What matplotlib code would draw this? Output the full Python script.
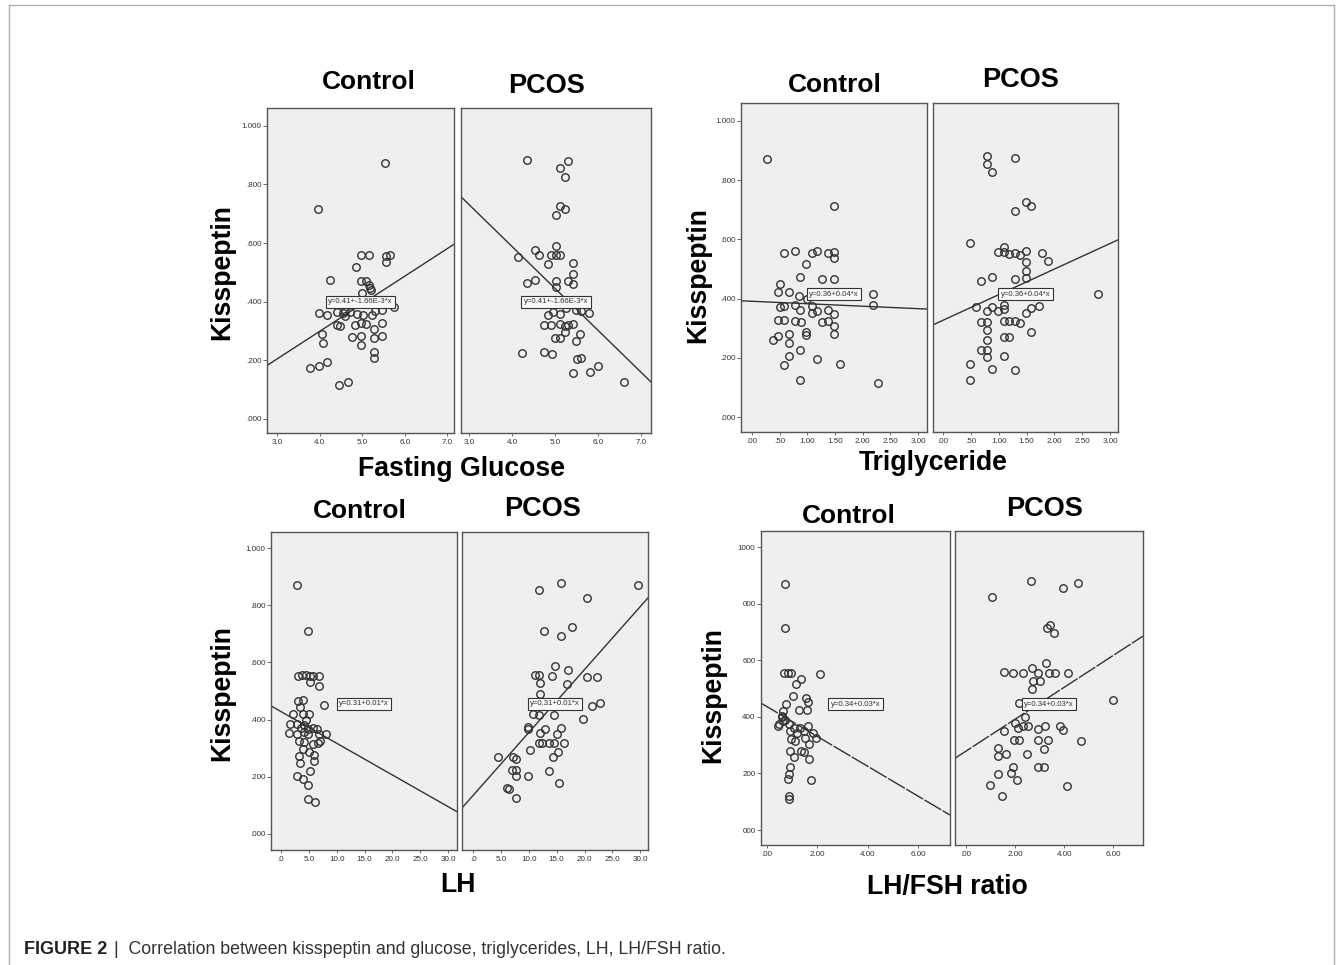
import numpy as np
import matplotlib
matplotlib.use("Agg")
from matplotlib import pyplot as plt
from matplotlib.lines import Line2D

plt.rcParams['font.family'] = ['Liberation Sans', 'DejaVu Sans']

# ---- data ----
# Fasting glucose
glu_ctrl_x = [5.54, 3.96, 4.97, 5.17, 5.56, 5.66, 5.55, 4.85, 4.25, 4.96, 5.09, 5.17, 5.19,
              3.98, 4.16, 4.41, 4.55, 4.60, 4.72, 4.88, 5.03, 5.23, 5.46, 5.74, 4.41, 4.47,
              4.84, 4.96, 5.09, 5.27, 5.46, 4.05, 4.08, 4.76, 4.98, 5.27, 5.46, 4.98, 5.27,
              5.27, 4.16, 3.98, 3.76, 4.45, 4.67, 5.00, 5.30, 4.60, 5.20]
glu_ctrl_y = [0.873, 0.718, 0.558, 0.561, 0.557, 0.561, 0.535, 0.517, 0.474, 0.470, 0.470,
              0.458, 0.447, 0.362, 0.354, 0.365, 0.362, 0.350, 0.365, 0.358, 0.356, 0.356,
              0.373, 0.381, 0.322, 0.316, 0.320, 0.328, 0.324, 0.308, 0.328, 0.290, 0.259,
              0.279, 0.282, 0.276, 0.282, 0.251, 0.228, 0.208, 0.195, 0.180, 0.174, 0.117,
              0.125, 0.430, 0.370, 0.370, 0.440]
glu_pcos_x = [4.34, 5.31, 5.12, 5.23, 5.12, 5.24, 5.02, 5.03, 4.53, 4.63, 4.90, 5.02, 5.12,
              4.13, 4.83, 5.41, 5.41, 4.34, 4.53, 5.02, 5.31, 5.41, 5.02, 4.83, 4.94, 5.12,
              5.48, 5.79, 4.75, 4.90, 5.12, 5.23, 5.31, 5.41, 5.23, 5.58, 5.00, 5.12, 5.48,
              4.22, 4.73, 4.92, 5.51, 5.60, 6.00, 5.81, 5.42, 6.61, 5.25, 5.60]
glu_pcos_y = [0.883, 0.879, 0.856, 0.824, 0.726, 0.716, 0.695, 0.589, 0.575, 0.558, 0.561,
              0.561, 0.558, 0.552, 0.527, 0.531, 0.495, 0.465, 0.474, 0.470, 0.472, 0.461,
              0.449, 0.356, 0.365, 0.358, 0.373, 0.362, 0.322, 0.322, 0.324, 0.316, 0.320,
              0.324, 0.297, 0.291, 0.276, 0.276, 0.265, 0.225, 0.228, 0.223, 0.203, 0.208,
              0.182, 0.160, 0.157, 0.125, 0.380, 0.370]

# Triglyceride
tg_ctrl_x = [0.27, 1.48, 0.57, 0.78, 1.08, 1.17, 1.38, 1.48, 1.48, 0.98, 0.87, 1.27, 1.48,
             0.50, 0.47, 0.67, 2.18, 2.18, 0.57, 0.78, 0.87, 1.08, 1.08, 1.17, 1.38, 1.48,
             0.50, 0.47, 0.57, 0.78, 0.88, 1.27, 1.38, 1.48, 0.98, 0.98, 1.48, 0.47, 0.37,
             0.67, 0.67, 0.87, 0.67, 1.17, 1.58, 0.57, 0.87, 2.28, 1.00, 0.85]
tg_ctrl_y = [0.871, 0.713, 0.554, 0.559, 0.554, 0.559, 0.554, 0.556, 0.536, 0.518, 0.473,
             0.466, 0.466, 0.449, 0.424, 0.424, 0.417, 0.379, 0.374, 0.379, 0.360, 0.374,
             0.353, 0.357, 0.362, 0.349, 0.372, 0.327, 0.329, 0.323, 0.320, 0.320, 0.323,
             0.306, 0.289, 0.276, 0.281, 0.275, 0.259, 0.281, 0.250, 0.225, 0.205, 0.196,
             0.180, 0.175, 0.126, 0.115, 0.400, 0.410]
tg_pcos_x = [0.79, 0.79, 0.88, 1.29, 1.49, 1.58, 1.29, 0.49, 1.09, 0.99, 1.09, 1.18, 1.29,
             1.39, 1.49, 1.78, 1.88, 1.49, 1.49, 0.69, 0.88, 1.29, 1.49, 2.78, 0.59, 0.79,
             0.88, 0.99, 1.09, 1.09, 1.49, 1.58, 1.73, 0.69, 0.79, 1.09, 1.18, 1.29, 1.39,
             0.79, 1.58, 0.79, 1.09, 1.18, 0.69, 0.79, 0.79, 1.09, 0.49, 0.88, 1.29, 0.49]
tg_pcos_y = [0.880, 0.855, 0.826, 0.874, 0.725, 0.711, 0.697, 0.588, 0.574, 0.557, 0.557,
             0.552, 0.554, 0.548, 0.559, 0.554, 0.528, 0.524, 0.492, 0.461, 0.473, 0.466,
             0.469, 0.417, 0.372, 0.357, 0.372, 0.357, 0.379, 0.365, 0.353, 0.368, 0.374,
             0.320, 0.320, 0.323, 0.323, 0.323, 0.318, 0.293, 0.289, 0.261, 0.270, 0.270,
             0.225, 0.225, 0.203, 0.205, 0.180, 0.162, 0.160, 0.124]

# LH
lh_ctrl_x = [2.81, 4.91, 2.99, 3.71, 4.49, 5.21, 5.81, 6.89, 5.21, 6.89, 7.66, 3.11, 3.89,
             3.47, 2.09, 3.89, 5.09, 1.61, 2.87, 4.19, 4.91, 5.69, 6.47, 8.08, 1.49, 2.87,
             4.07, 4.91, 6.89, 3.29, 4.19, 5.69, 6.59, 7.07, 4.01, 5.09, 3.29, 5.87, 3.47,
             5.87, 5.27, 2.87, 3.89, 4.91, 4.91, 6.11, 4.50, 3.50]
lh_ctrl_y = [0.869, 0.711, 0.552, 0.555, 0.555, 0.552, 0.552, 0.552, 0.531, 0.516, 0.452,
             0.465, 0.470, 0.444, 0.421, 0.421, 0.421, 0.386, 0.386, 0.382, 0.368, 0.370,
             0.368, 0.351, 0.353, 0.351, 0.356, 0.351, 0.351, 0.324, 0.321, 0.316, 0.319,
             0.324, 0.298, 0.286, 0.272, 0.277, 0.249, 0.254, 0.222, 0.203, 0.191, 0.173,
             0.123, 0.112, 0.400, 0.370]
lh_pcos_x = [15.74, 11.85, 29.6, 20.4, 12.8, 17.7, 15.74, 14.7, 17.1, 11.13, 11.85, 14.1,
             22.3, 20.4, 12.0, 16.8, 22.8, 21.3, 19.8, 14.5, 11.85, 10.8, 9.93, 9.93, 12.9,
             15.74, 12.0, 15.0, 11.85, 12.4, 13.6, 14.5, 16.4, 10.2, 14.3, 15.3, 4.43, 7.23,
             7.78, 6.94, 7.78, 13.6, 9.81, 7.78, 6.04, 6.4, 15.5, 7.78, 12.0]
lh_pcos_y = [0.876, 0.853, 0.871, 0.824, 0.711, 0.723, 0.693, 0.587, 0.573, 0.556, 0.556,
             0.552, 0.550, 0.549, 0.527, 0.526, 0.459, 0.448, 0.401, 0.415, 0.415, 0.420,
             0.375, 0.367, 0.366, 0.369, 0.354, 0.350, 0.319, 0.317, 0.319, 0.319, 0.317,
             0.294, 0.270, 0.285, 0.270, 0.270, 0.261, 0.224, 0.224, 0.221, 0.204, 0.204,
             0.160, 0.158, 0.178, 0.125, 0.490]

# LH/FSH ratio
ratio_ctrl_x = [0.73, 0.71, 0.69, 0.82, 0.95, 2.12, 1.35, 1.15, 1.04, 1.55, 1.61, 0.75, 1.28,
                1.57, 0.62, 0.58, 0.49, 0.62, 0.89, 1.08, 1.32, 1.61, 0.45, 1.81, 0.93, 1.19,
                1.48, 0.95, 1.11, 1.52, 1.94, 1.65, 0.93, 1.35, 1.45, 1.06, 1.65, 0.91, 0.89,
                0.85, 1.75, 0.86, 0.86, 0.60, 0.70]
ratio_ctrl_y = [0.871, 0.713, 0.554, 0.556, 0.556, 0.553, 0.535, 0.515, 0.474, 0.466, 0.454,
                0.447, 0.423, 0.423, 0.421, 0.403, 0.374, 0.386, 0.376, 0.362, 0.360, 0.368,
                0.368, 0.344, 0.350, 0.344, 0.350, 0.321, 0.315, 0.324, 0.327, 0.305, 0.280,
                0.280, 0.274, 0.258, 0.250, 0.223, 0.199, 0.179, 0.176, 0.120, 0.111, 0.400,
                0.390]
ratio_pcos_x = [2.65, 4.56, 3.95, 1.05, 3.43, 3.29, 3.59, 3.27, 2.69, 1.56, 1.93, 2.34, 2.95,
                3.40, 3.63, 4.14, 2.72, 3.00, 2.69, 6.01, 2.18, 2.41, 2.00, 2.11, 2.34, 2.54,
                2.95, 3.22, 3.83, 3.95, 1.56, 1.97, 2.18, 2.95, 3.36, 4.68, 1.29, 1.32, 1.63,
                2.50, 3.18, 1.93, 2.95, 3.19, 1.84, 1.29, 2.06, 0.98, 4.10, 1.48]
ratio_pcos_y = [0.880, 0.872, 0.856, 0.824, 0.724, 0.715, 0.695, 0.589, 0.571, 0.557, 0.556,
                0.556, 0.556, 0.554, 0.554, 0.554, 0.528, 0.528, 0.497, 0.459, 0.448, 0.400,
                0.380, 0.362, 0.368, 0.368, 0.358, 0.366, 0.369, 0.354, 0.351, 0.318, 0.318,
                0.318, 0.318, 0.316, 0.291, 0.263, 0.268, 0.270, 0.288, 0.221, 0.224, 0.224,
                0.201, 0.199, 0.178, 0.159, 0.157, 0.121]

# fit lines (intercept, slope) as drawn
glu_fit = [(-0.077, 0.094), (1.160, -0.143)]
tg_fit = [(0.391, -0.0083), (0.327, 0.0864)]
lh_fit = [(0.428, -0.01108), (0.135, 0.022)]
ratio_fit = [(0.436, -0.0527), (0.279, 0.0563)]

fit_labels = ["y=0.41+-1.66E-3*x", "y=0.36+0.04*x", "y=0.31+0.01*x", "y=0.34+0.03*x"]
x_labels = ["Fasting Glucose", "Triglyceride", "LH", "LH/FSH ratio"]
y_ticks = [0.0, 0.2, 0.4, 0.6, 0.8, 1.0]
y_ticklabels = [".000", ".200", ".400", ".600", ".800", "1.000"]
y_ticklabels_ratio = ["000", "200", "400", "600", "000", "1000"]
glu_ticks = [3.0, 4.0, 5.0, 6.0, 7.0]
glu_ticklabels = ["3.0", "4.0", "5.0", "6.0", "7.0"]
tg_ticks = [0.0, 0.5, 1.0, 1.5, 2.0, 2.5, 3.0]
tg_ticklabels = [".00", ".50", "1.00", "1.50", "2.00", "2.50", "3.00"]
lh_ticks = [0, 5, 10, 15, 20, 25, 30]
lh_ticklabels = [".0", "5.0", "10.0", "15.0", "20.0", "25.0", "30.0"]
ratio_ticks = [0, 2, 4, 6]
ratio_ticklabels = [".00", "2.00", "4.00", "6.00"]

# ---- figure ----
W, H = 1344, 965
fig = plt.figure(figsize=(W / 100, H / 100), dpi=100)
fig.patch.set_facecolor("white")


def box(l, t, r, b):
    return [l / W, 1 - b / H, (r - l) / W, (b - t) / H]


def ftext(x, y, s, **kw):
    fig.text(x / W, 1 - y / H, s, **kw)


panels = [
    dict(ctrl=(glu_ctrl_x, glu_ctrl_y), pcos=(glu_pcos_x, glu_pcos_y), fit=glu_fit,
         boxes=[(267, 108, 454, 433), (461, 108, 651, 433)],
         xlims=[(2.76, 7.16), (2.81, 7.23)], ylim=(-0.048, 1.061),
         xt=glu_ticks, xtl=glu_ticklabels, ytl=y_ticklabels, lab_y=0.40,
         titles=[(369, 82), (547, 86)], ylab=(222, 272), xlab=(461, 469)),
    dict(ctrl=(tg_ctrl_x, tg_ctrl_y), pcos=(tg_pcos_x, tg_pcos_y), fit=tg_fit,
         boxes=[(741, 103, 927, 432), (933, 103, 1118, 432)],
         xlims=[(-0.2, 3.16), (-0.18, 3.14)], ylim=(-0.05, 1.06),
         xt=tg_ticks, xtl=tg_ticklabels, ytl=y_ticklabels, lab_y=0.415,
         titles=[(835, 85), (1020, 80)], ylab=(698, 275), xlab=(933, 463)),
    dict(ctrl=(lh_ctrl_x, lh_ctrl_y), pcos=(lh_pcos_x, lh_pcos_y), fit=lh_fit,
         boxes=[(271, 532, 457, 850), (462, 532, 648, 850)],
         xlims=[(-1.8, 31.6), (-2.0, 31.4)], ylim=(-0.056, 1.056),
         xt=lh_ticks, xtl=lh_ticklabels, ytl=y_ticklabels, lab_y=0.455,
         titles=[(360, 511), (543, 509)], ylab=(222, 693), xlab=(458, 885)),
    dict(ctrl=(ratio_ctrl_x, ratio_ctrl_y), pcos=(ratio_pcos_x, ratio_pcos_y), fit=ratio_fit,
         boxes=[(761, 531, 950, 845), (955, 531, 1143, 845)],
         xlims=[(-0.24, 7.27), (-0.45, 7.22)], ylim=(-0.053, 1.057),
         xt=ratio_ticks, xtl=ratio_ticklabels, ytl=y_ticklabels_ratio, lab_y=0.445,
         titles=[(849, 516), (1045, 509)], ylab=(713, 695), xlab=(947, 887)),
]

for i, p in enumerate(panels):
    for j, key in enumerate(["ctrl", "pcos"]):
        ax = fig.add_axes(box(*p["boxes"][j]))
        ax.set_facecolor("#efefef")
        for sp in ax.spines.values():
            sp.set_color("#555555")
            sp.set_linewidth(1.0)
        xs, ys = p[key]
        ax.plot(xs, ys, "o", ms=5.4, mfc="none", mec="#333333", mew=1.0)
        xl = np.array(p["xlims"][j])
        b0, b1 = p["fit"][j]
        ls = (0, (14, 1.2)) if i == 3 else "-"
        ax.plot(xl, b0 + b1 * xl, color="#333333", lw=1.0, ls=ls)
        ax.set_xlim(*xl)
        ax.set_ylim(*p["ylim"])
        ax.set_xticks(p["xt"])
        ax.set_xticklabels(p["xtl"])
        ax.tick_params(axis="x", labelsize=5.8, length=2, width=0.6,
                       colors="#555555", labelcolor="#333333", pad=2)
        if j == 0:
            ax.set_yticks(y_ticks)
            ax.set_yticklabels(p["ytl"])
            ax.tick_params(axis="y", labelsize=5.8, length=3, width=0.6,
                           colors="#555555", labelcolor="#333333", pad=1)
        else:
            ax.set_yticks([])
        ax.text(0.5, p["lab_y"], fit_labels[i], transform=ax.get_yaxis_transform(),
                ha="center", va="center", fontsize=5.6, color="#333333",
                bbox=dict(boxstyle="square,pad=0.3", fc="#f8f8f8", ec="#333333", lw=0.8))
    tx = p["titles"]
    ftext(tx[0][0], tx[0][1], "Control", ha="center", va="center", fontsize=19,
          fontweight="bold")
    ftext(tx[1][0], tx[1][1], "PCOS", ha="center", va="center", fontsize=19.5,
          fontweight="bold")
    ftext(p["ylab"][0], p["ylab"][1], "Kisspeptin", ha="center", va="center",
          rotation=90, fontsize=19.2, fontweight="bold")
    ftext(p["xlab"][0], p["xlab"][1], x_labels[i], ha="center", va="center",
          fontsize=19.2, fontweight="bold")

# outer frame
fr = "#b0b0b0"
fig.add_artist(Line2D([9 / W, 9 / W], [0, 1 - 5 / H], color=fr, lw=1.0))
fig.add_artist(Line2D([9 / W, 1334 / W], [1 - 5 / H, 1 - 5 / H], color=fr, lw=1.0))
fig.add_artist(Line2D([1334 / W, 1334 / W], [0, 1 - 5 / H], color=fr, lw=1.0))

# caption
ftext(24, 950, "FIGURE 2", ha="left", va="center", fontsize=13, fontweight="bold",
      color="#222222")
ftext(114, 950, "|  Correlation between kisspeptin and glucose, triglycerides, LH, LH/FSH ratio.",
      ha="left", va="center", fontsize=12.8, color="#333333")

fig.savefig("out.png", dpi=100)
